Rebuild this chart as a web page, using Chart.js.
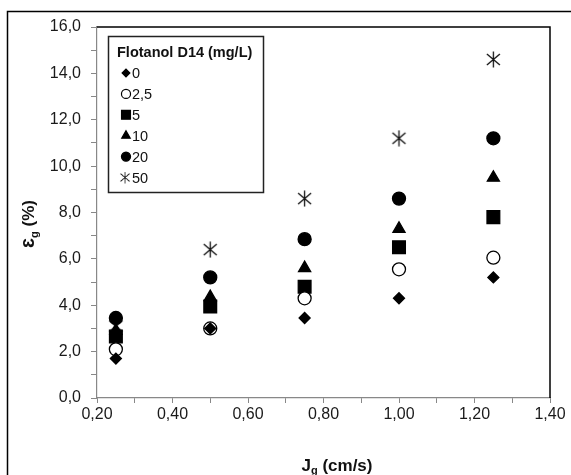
<!DOCTYPE html>
<html>
<head>
<meta charset="utf-8">
<script src="https://cdn.jsdelivr.net/npm/chart.js@4.4.1/dist/chart.umd.min.js"></script>
<style>
  html, body { margin: 0; padding: 0; background: #fff; }
  #wrap { width: 571px; height: 475px; }
</style>
</head>
<body>
<div id="wrap"><canvas id="holdupChart"></canvas></div>
<script>
// gas velocity Jg (cm/s)
const jg = [0.25, 0.5, 0.75, 1.0, 1.25]

// gas holdup (%) for each Flotanol D14 dose
const dose0 = [1.7, 3.0, 3.45, 4.3, 5.2]
const dose2_5 = [2.1, 3.0, 4.3, 5.55, 6.05]
const dose5 = [2.65, 3.95, 4.8, 6.5, 7.8]
const dose10 = [2.9, 4.35, 5.6, 7.3, 9.5]
const dose20 = [3.45, 5.2, 6.85, 8.6, 11.2]
const dose50 = [3.1, 6.4, 8.6, 11.2, 14.6]

const doseLabels = ["0", "2,5", "5", "10", "20", "50"]
const legendTitle = "Flotanol D14 (mg/L)"

const FONT = "'Liberation Sans', Arial, sans-serif"

// asterisk marker (vertical bar + X)
const star = document.createElement("canvas")
star.width = 17
star.height = 17
{
    const c = star.getContext("2d")
    c.strokeStyle = "#111"
    c.lineWidth = 1.3
    c.beginPath()
    c.moveTo(8.5, 0.5); c.lineTo(8.5, 16.5)
    c.moveTo(2, 3); c.lineTo(15, 14)
    c.moveTo(15, 3); c.lineTo(2, 14)
    c.stroke()
}

function pts(ys) {
    return ys.map((y, i) => ({ x: jg[i], y: y }))
}

const styles = [
    { pointStyle: "rectRot", radius: 5.5, bg: "#000" },
    { pointStyle: "circle", radius: 6.5, bg: "#fff" },
    { pointStyle: "rect", radius: 9, bg: "#000" },
    { pointStyle: "triangle", radius: 7, bg: "#000" },
    { pointStyle: "circle", radius: 6.5, bg: "#000" },
    { pointStyle: star, radius: 8, bg: "#000" },
]
const series = [dose0, dose2_5, dose5, dose10, dose20, dose50]

const datasets = series.map((s, i) => ({
    label: doseLabels[i],
    data: pts(s),
    pointStyle: styles[i].pointStyle,
    pointRadius: styles[i].radius,
    pointBackgroundColor: styles[i].bg,
    pointBorderColor: "#000",
    pointBorderWidth: 1.3,
    showLine: false,
}))

const decor = {
    id: "decor",
    beforeDraw(chart) {
        const c = chart.ctx
        c.save()
        c.fillStyle = "#fff"
        c.fillRect(0, 0, chart.width, chart.height)
        // outer frame
        c.strokeStyle = "#000"
        c.lineWidth = 1.5
        c.strokeRect(7.5, 11.5, 700, 700)
        c.restore()
    },
    afterDraw(chart) {
        const c = chart.ctx
        const a = chart.chartArea
        c.save()
        // top and right border of plot area
        c.strokeStyle = "#000"
        c.lineWidth = 1.5
        c.beginPath()
        c.moveTo(a.left, a.top)
        c.lineTo(a.right, a.top)
        c.lineTo(a.right, a.bottom)
        c.stroke()

        // legend box
        const lx = 108, ly = 36, lw = 155, lh = 156
        c.fillStyle = "#fff"
        c.fillRect(lx, ly, lw, lh)
        c.lineWidth = 1.5
        c.strokeStyle = "#222"
        c.strokeRect(lx + 0.5, ly + 0.5, lw, lh)
        c.fillStyle = "#111"
        c.font = "bold 14.5px " + FONT
        c.textBaseline = "middle"
        c.fillText(legendTitle, 117, 53)
        c.font = "14.5px " + FONT
        chart.data.datasets.forEach((ds, i) => {
            const y = 73 + i * 20.9
            const st = styles[i]
            c.fillStyle = st.bg
            c.strokeStyle = "#000"
            c.lineWidth = 1.2
            const r = st.pointStyle === star ? 6 : st.radius * 0.7
            if (st.pointStyle === star) {
                c.drawImage(star, 119, y - 6, 12, 12)
            } else {
                Chart.helpers.drawPoint(c, { pointStyle: st.pointStyle, radius: r, rotation: 0, borderWidth: 1.2 }, 126, y)
            }
            c.fillStyle = "#111"
            c.fillText(ds.label, 132, y + 1)
        })

        // y axis title  ɛg (%)
        c.save()
        c.translate(28, 224)
        c.rotate(-Math.PI / 2)
        c.fillStyle = "#111"
        c.textBaseline = "alphabetic"
        c.font = "bold 20px " + FONT
        const eps = "\u025B"
        const w1 = c.measureText(eps).width
        c.font = "bold 11px " + FONT
        const w2 = c.measureText("g").width
        c.font = "bold 17px " + FONT
        const w3 = c.measureText(" (%)").width
        let x = -(w1 + w2 + w3) / 2
        c.font = "bold 20px " + FONT
        c.fillText(eps, x, 6)
        x += w1
        c.font = "bold 11px " + FONT
        c.fillText("g", x, 10)
        x += w2
        c.font = "bold 17px " + FONT
        c.fillText(" (%)", x, 6)
        c.restore()

        // x axis title  Jg (cm/s)
        c.fillStyle = "#111"
        c.textBaseline = "alphabetic"
        c.font = "bold 17px " + FONT
        const a1 = c.measureText("J").width
        c.font = "bold 11px " + FONT
        const a2 = c.measureText("g").width
        c.font = "bold 17px " + FONT
        const a3 = c.measureText(" (cm/s)").width
        let xx = 337 - (a1 + a2 + a3) / 2
        c.fillText("J", xx, 471)
        xx += a1
        c.font = "bold 11px " + FONT
        c.fillText("g", xx, 474)
        xx += a2
        c.font = "bold 17px " + FONT
        c.fillText(" (cm/s)", xx, 471)
        c.restore()
    }
}

const ctx = document.getElementById("holdupChart")

new Chart(ctx, {
    type: "scatter",
    data: { datasets: datasets },
    options: {
        responsive: true,
        maintainAspectRatio: false,
        animation: false,
        devicePixelRatio: 1,
        layout: { padding: { left: 0, top: 27, right: 21, bottom: 0 } },
        plugins: {
            legend: { display: false },
            tooltip: { enabled: false },
        },
        scales: {
            x: {
                type: "linear",
                min: 0.2,
                max: 1.4,
                afterFit(s) { s.height = 77 },
                border: { display: true, color: "#888", width: 1.2 },
                grid: { drawOnChartArea: false, drawTicks: true, tickLength: 5, color: "#888" },
                ticks: {
                    stepSize: 0.1,
                    padding: 2,
                    color: "#1a1a1a",
                    font: { family: FONT, size: 16 },
                    maxRotation: 0,
                    autoSkip: false,
                    callback: v => Math.round(v * 10) % 2 === 0 ? v.toFixed(2).replace(".", ",") : "",
                },
            },
            y: {
                type: "linear",
                min: 0,
                max: 16,
                afterFit(s) { s.width = 97 },
                border: { display: true, color: "#888", width: 1.2 },
                grid: { drawOnChartArea: false, drawTicks: true, tickLength: 6, color: "#888" },
                ticks: {
                    stepSize: 1,
                    padding: 10,
                    color: "#1a1a1a",
                    font: { family: FONT, size: 16 },
                    autoSkip: false,
                    callback: v => Math.round(v) % 2 === 0 ? v.toFixed(1).replace(".", ",") : "",
                },
            },
        },
    },
    plugins: [decor],
})
</script>
</body>
</html>
